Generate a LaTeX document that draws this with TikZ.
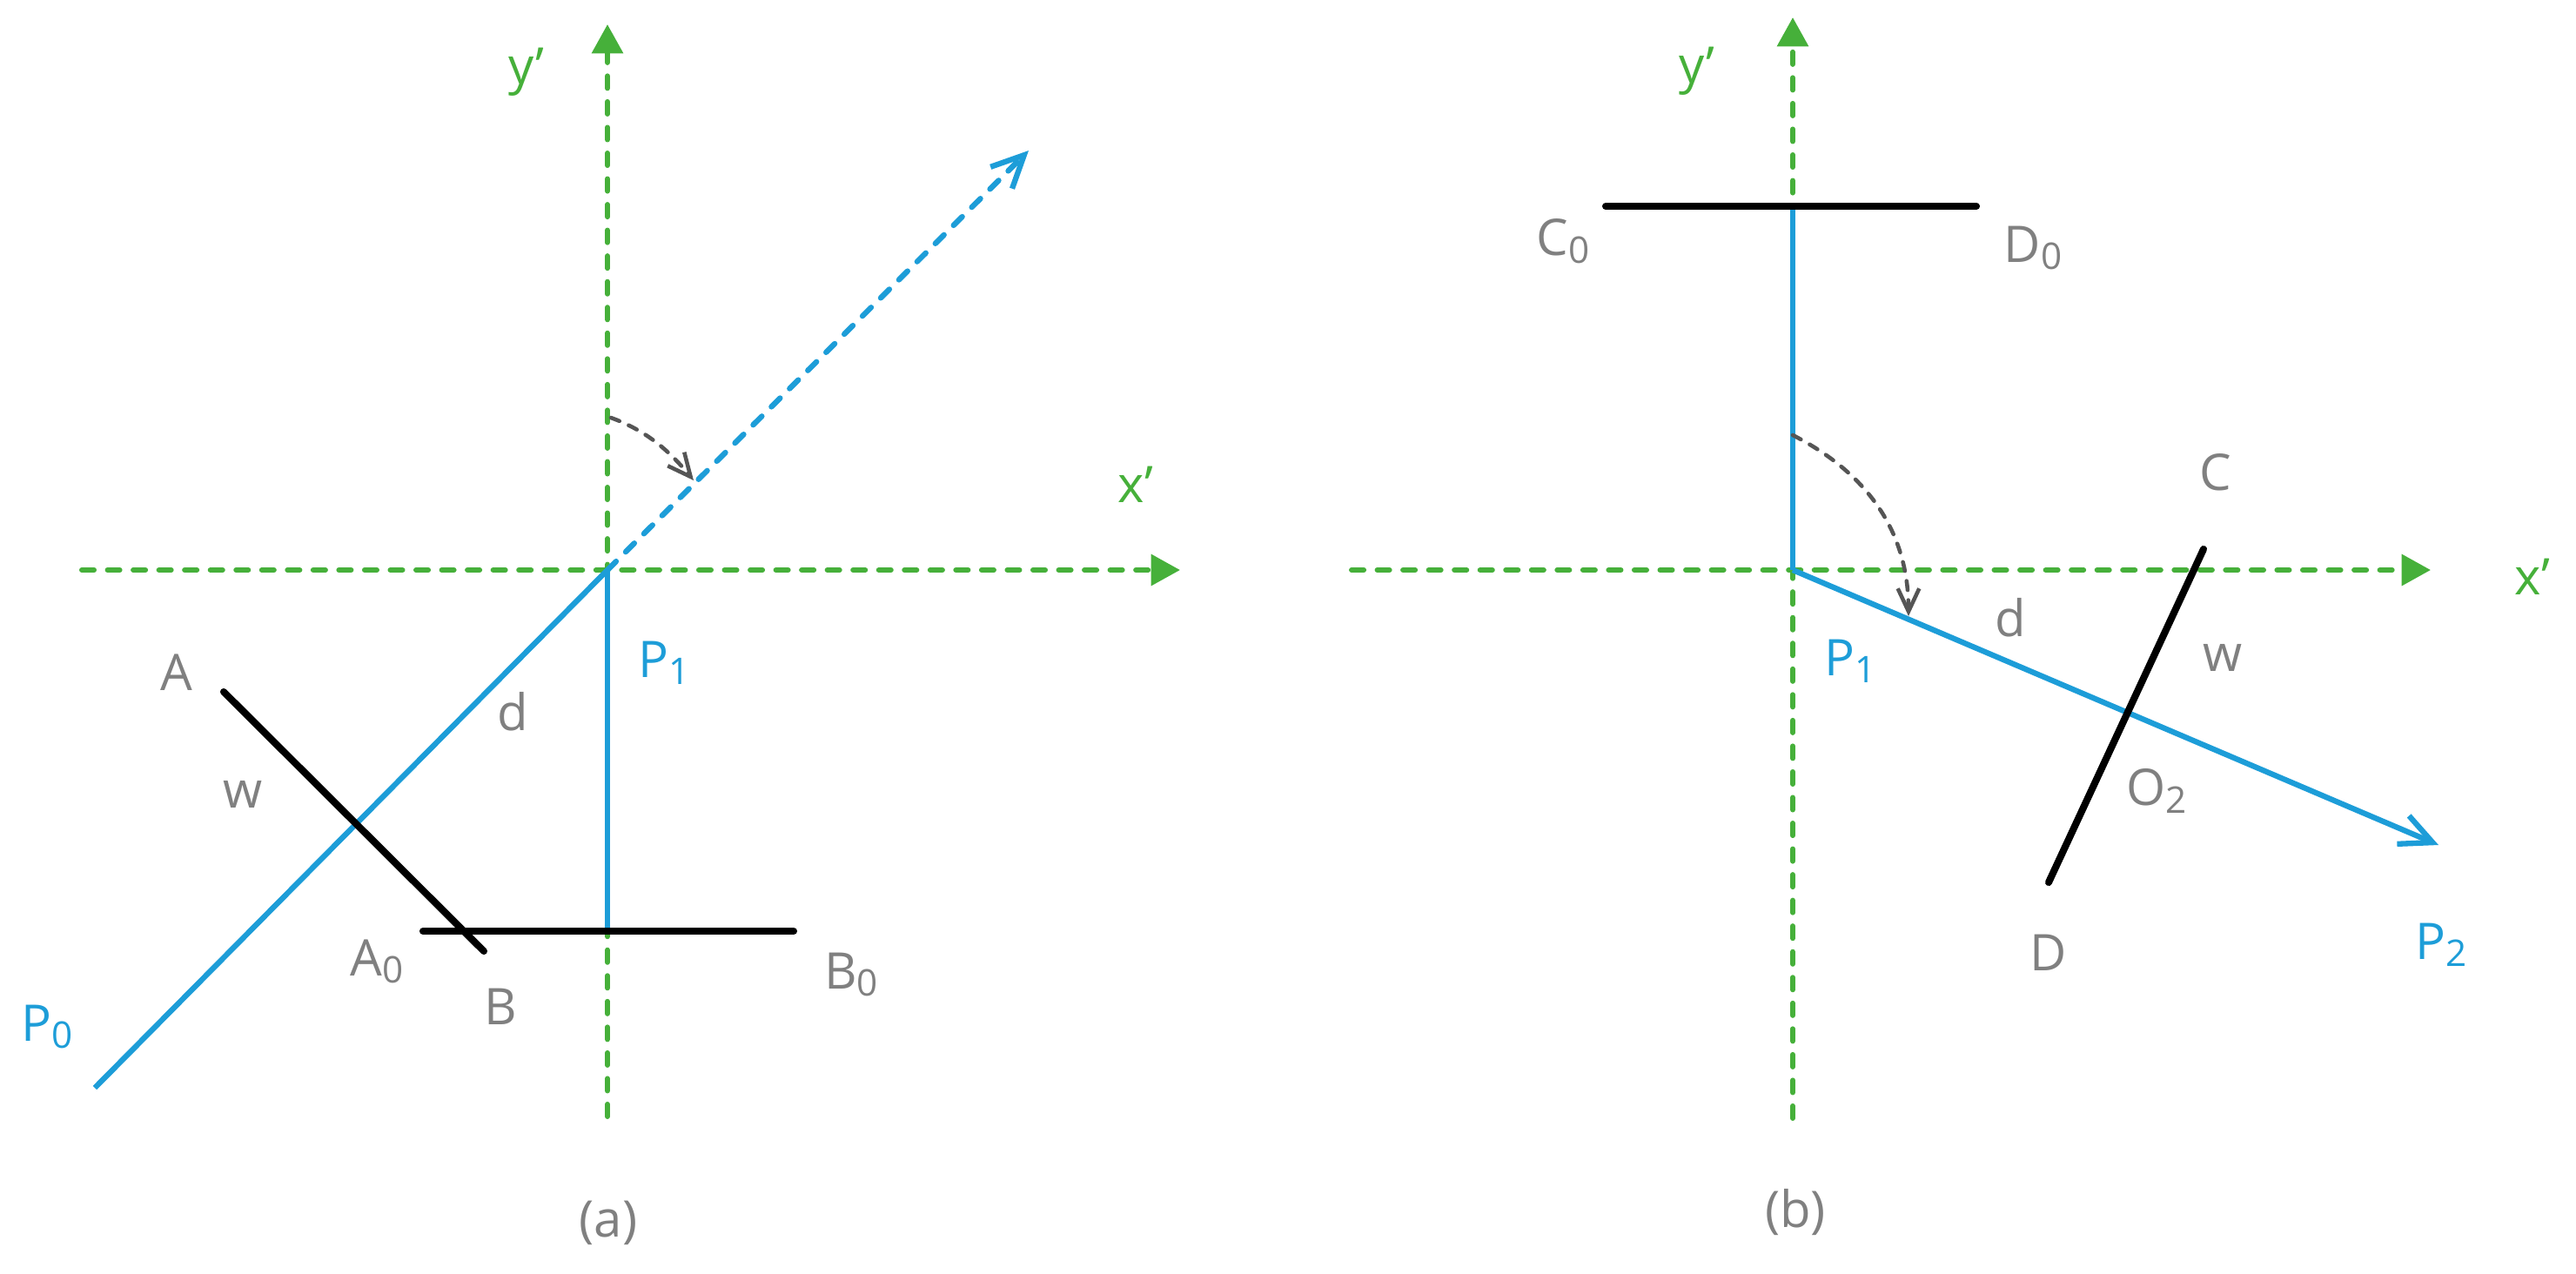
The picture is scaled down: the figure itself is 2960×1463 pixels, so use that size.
\documentclass[tikz,border=0pt]{standalone}
\usepackage{fontspec}
\setmainfont{Open Sans}
\usetikzlibrary{arrows.meta}
\definecolor{ggreen}{RGB}{70,176,58}
\definecolor{gblue}{RGB}{29,157,216}
\definecolor{ggray}{RGB}{128,128,128}
\definecolor{darc}{RGB}{85,85,85}
\newcommand\sbs[1]{\raisebox{-2.4pt}{\fontsize{12pt}{12pt}\selectfont #1}}
\tikzset{
  lbl/.style={inner sep=0pt, anchor=center, font=\fontsize{16.5pt}{19pt}\selectfont},
  graylbl/.style={lbl, text=ggray},
  bluelbl/.style={lbl, text=gblue},
  greenlbl/.style={lbl, text=ggreen},
  axisline/.style={draw=ggreen, line width=1.7pt, line cap=round, dash pattern=on 4pt off 4.4pt, -{Triangle[length=9.5pt,width=10pt]}},
  bluesolid/.style={draw=gblue, line width=1.8pt},
  bluedash/.style={draw=gblue, line width=1.8pt, line cap=round, dash pattern=on 4pt off 4.4pt},
  bluearrow/.style={-{Straight Barb[length=10.5pt,width=10pt]}},
  blackbar/.style={draw=black, line width=2.3pt, line cap=round},
  anglearc/.style={draw=darc, line width=1.3pt, line cap=round, dash pattern=on 3pt off 3.3pt, -{Straight Barb[length=7.5pt,width=7pt]}},
}
\begin{document}
\begin{tikzpicture}[x=0.01cm, y=-0.01cm]
\useasboundingbox (0,0) rectangle (2960,1463);
% ---------------- panel (a) ----------------
\coordinate (aO) at (698,655);
\coordinate (aYb) at (698,1283);
\coordinate (aYt) at (698,28);
\coordinate (aXl) at (94,655);
\coordinate (aXr) at (1356,655);
\coordinate (aP0) at (109,1250);
\coordinate (aTip) at (1182,173);
\coordinate (aFoot) at (698,1070);
\coordinate (aA) at (257,795);
\coordinate (aB) at (556,1093);
\coordinate (aA0) at (486,1070);
\coordinate (aB0) at (912,1070);
\coordinate (aArcS) at (702,480);
\coordinate (aArcE) at (797,552);

\draw[axisline] (aYb) -- (aYt);
\draw[axisline] (aXl) -- (aXr);
\draw[bluedash, bluearrow] (aO) -- (aTip);
\draw[bluesolid] (aP0) -- (aO);
\draw[bluesolid] (aO) -- (aFoot);
\draw[blackbar] (aA0) -- (aB0);
\draw[blackbar] (aA) -- (aB);
\draw[anglearc] (aArcS) .. controls (743,495) and (769,518) .. (aArcE);

\node[greenlbl] (ay) at (605,83) {y’};
\node[greenlbl] (ax) at (1305,557) {x’};
\node[bluelbl] (ap1) at (763,762) {P\sbs{1}};
\node[graylbl] (ad) at (589,818) {d};
\node[graylbl] (aAl) at (203,773) {A};
\node[graylbl] (aw) at (279,913) {w};
\node[graylbl] (aA0l) at (433,1105) {A\sbs{0}};
\node[graylbl] (aBl) at (575,1157) {B};
\node[graylbl] (aB0l) at (978,1120) {B\sbs{0}};
\node[bluelbl] (ap0) at (54,1180) {P\sbs{0}};
\node[graylbl] (acap) at (699,1405) {(a)};

% ---------------- panel (b) ----------------
\coordinate (bO) at (2060,655);
\coordinate (bYb) at (2060,1285);
\coordinate (bYt) at (2060,20);
\coordinate (bXl) at (1553,655);
\coordinate (bXr) at (2793,655);
\coordinate (bTop) at (2060,237);
\coordinate (bC0) at (1845,237);
\coordinate (bD0) at (2271,237);
\coordinate (bP2) at (2802,971);
\coordinate (bC) at (2532,631);
\coordinate (bD) at (2354,1014);
\coordinate (bArcS) at (2060,500);
\coordinate (bArcE) at (2193,708);

\draw[axisline] (bYb) -- (bYt);
\draw[axisline] (bXl) -- (bXr);
\draw[bluesolid] (bO) -- (bTop);
\draw[bluesolid, bluearrow] (bO) -- (bP2);
\draw[blackbar] (bC0) -- (bD0);
\draw[blackbar] (bC) -- (bD);
\draw[anglearc] (bArcS) .. controls (2146,544) and (2193,611) .. (bArcE);

\node[greenlbl] (by) at (1950,82) {y’};
\node[graylbl] (bC0l) at (1796,277) {C\sbs{0}};
\node[graylbl] (bD0l) at (2336,285) {D\sbs{0}};
\node[graylbl] (bCl) at (2546,543) {C};
\node[greenlbl] (bx) at (2910,663) {x’};
\node[graylbl] (bd) at (2310,710) {d};
\node[graylbl] (bw) at (2554,756) {w};
\node[bluelbl] (bp1) at (2126,760) {P\sbs{1}};
\node[graylbl] (bO2) at (2478,909) {O\sbs{2}};
\node[graylbl] (bDl) at (2354,1095) {D};
\node[bluelbl] (bp2) at (2805,1086) {P\sbs{2}};
\node[graylbl] (bcap) at (2063,1393) {(b)};
\end{tikzpicture}
\end{document}
